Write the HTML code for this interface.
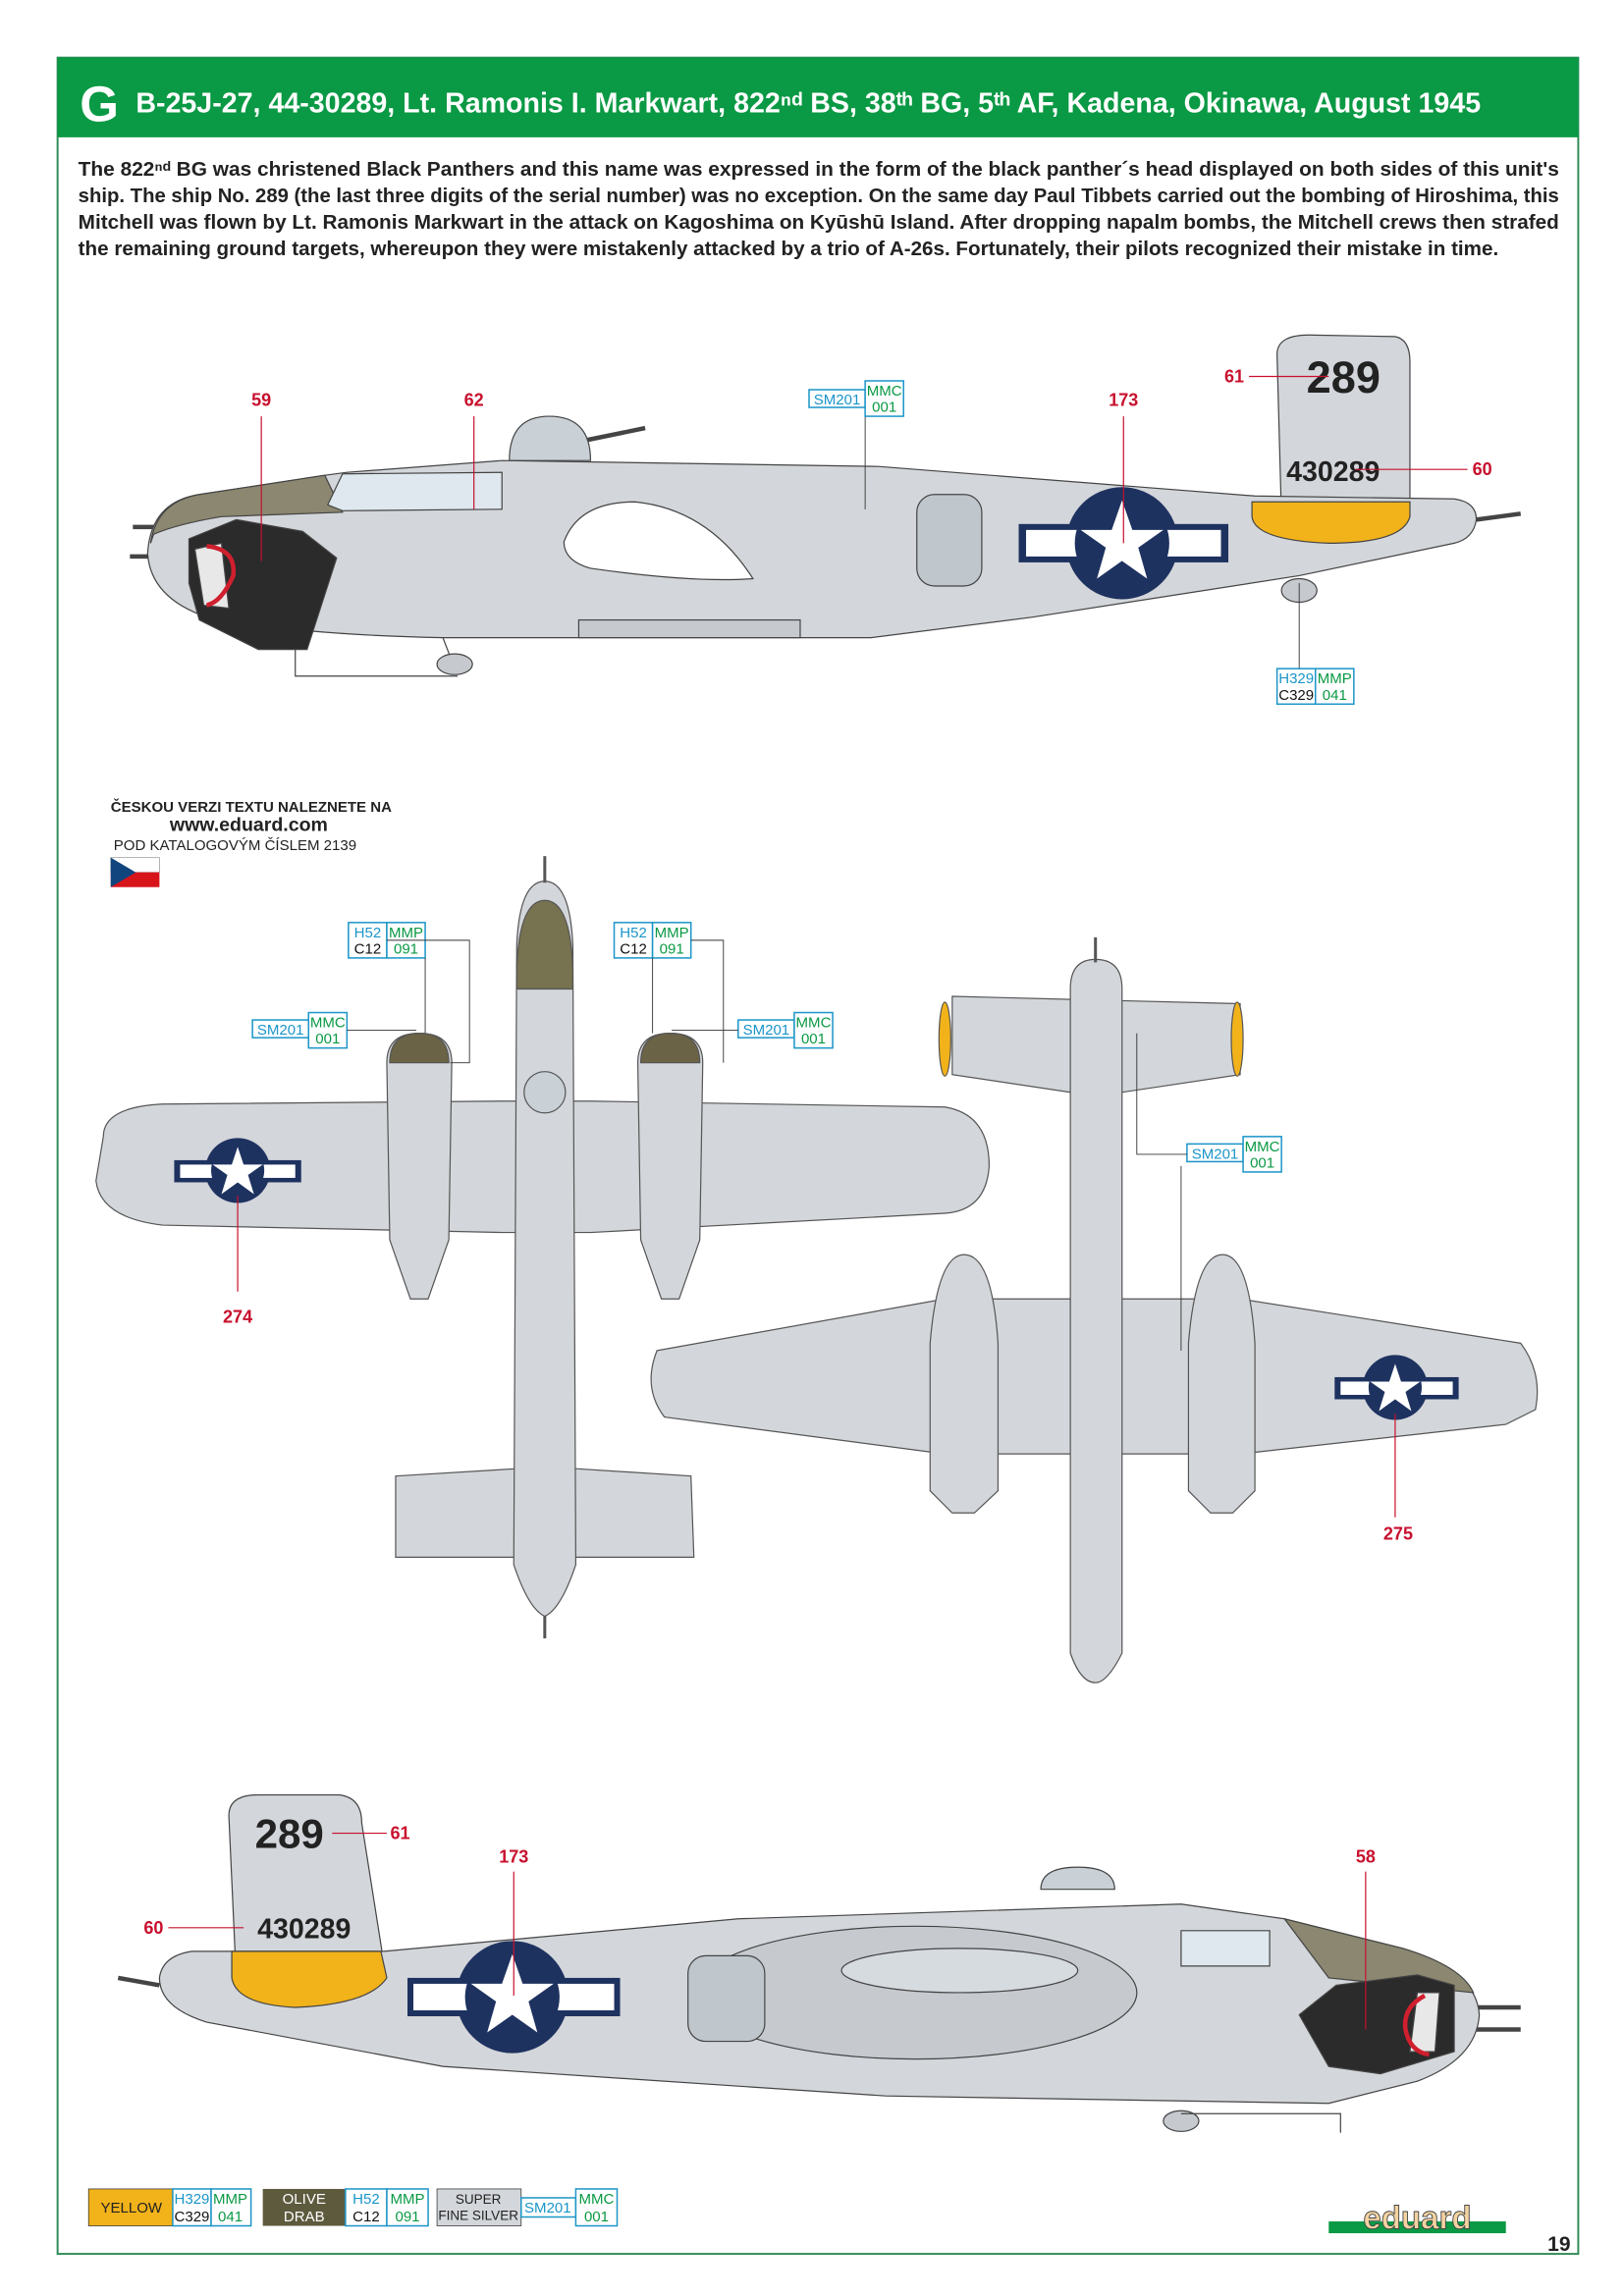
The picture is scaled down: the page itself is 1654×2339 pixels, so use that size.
<!DOCTYPE html>
<html><head><meta charset="utf-8"><style>
html,body{margin:0;padding:0;background:#fff}
svg{display:block}
text{font-family:"Liberation Sans Narrow","Liberation Sans",sans-serif}
</style></head><body>
<svg width="1654" height="2339" viewBox="0 0 1100 1555.5" xmlns="http://www.w3.org/2000/svg">
<rect x="39" y="39" width="1030" height="1488" fill="#fff" stroke="#2e8b57" stroke-width="1.3"/>
<rect x="39" y="39" width="1030" height="54" fill="#0a9944"/>
<text x="54" y="82" font-size="34" font-weight="bold" fill="#fff">G</text>
<text x="92" y="76" font-size="19" font-weight="bold" fill="#fff" textLength="911" lengthAdjust="spacingAndGlyphs">B-25J-27, 44-30289, Lt. Ramonis I. Markwart, 822ⁿᵈ BS, 38ᵗʰ BG, 5ᵗʰ AF, Kadena, Okinawa, August 1945</text>
<g font-size="13.5" font-weight="bold" fill="#222">
<text x="53" y="119" textLength="1003" lengthAdjust="spacingAndGlyphs">The 822ⁿᵈ BG was christened Black Panthers and this name was expressed in the form of the black panther´s head displayed on both sides of this unit's</text>
<text x="53" y="137" textLength="1003" lengthAdjust="spacingAndGlyphs">ship. The ship No. 289 (the last three digits of the serial number) was no exception. On the same day Paul Tibbets carried out the bombing of Hiroshima, this</text>
<text x="53" y="155" textLength="1003" lengthAdjust="spacingAndGlyphs">Mitchell was flown by Lt. Ramonis Markwart in the attack on Kagoshima on Kyūshū Island. After dropping napalm bombs, the Mitchell crews then strafed</text>
<text x="53" y="173" textLength="962" lengthAdjust="spacingAndGlyphs">the remaining ground targets, whereupon they were mistakenly attacked by a trio of A-26s. Fortunately, their pilots recognized their mistake in time.</text>
</g>

<!-- SIDE VIEW 1 -->
<g stroke="#444" stroke-width="0.8">
<line x1="1000" y1="352" x2="1030" y2="348" stroke-width="3"/>
<line x1="90" y1="357" x2="110" y2="357" stroke-width="3"/>
<line x1="88" y1="377" x2="106" y2="377" stroke-width="3"/>
<path d="M345,312 Q345,282 372,282 Q400,282 400,312 Z" fill="#c9d0d6"/>
<line x1="398" y1="298" x2="437" y2="290" stroke-width="3"/>
<path d="M868,350 L865,240 Q865,226 890,227 L945,228 Q955,230 955,245 L955,345 Q930,366 880,362 Z" fill="#d3d6da"/>
<path d="M100,375 Q102,340 135,335 L220,322 L235,320 L340,312 L595,316 L850,336 L985,338 Q1000,340 1000,352 Q998,365 985,368 L880,390 L700,418 L590,432 L300,432 Q200,430 140,418 Q102,405 100,375 Z" fill="#d3d6da"/>
<path d="M848,340 L955,340 L955,350 Q950,368 900,368 Q850,366 848,350 Z" fill="#f2b21a"/>
<path d="M102,368 Q106,340 135,335 L220,322 L232,347 L150,350 Q120,355 104,362 Z" fill="#8b8770"/>
<path d="M222,342 L232,321 L340,320 L340,345 L232,346 Z" fill="#dfe8ee"/>
<path d="M382,367 Q392,340 430,340 Q480,345 510,392 Q470,395 400,385 Q382,380 382,367 Z" fill="#fff"/>
<rect x="621" y="335" width="44" height="62" rx="12" fill="#bfc6cc"/>
<path d="M128,365 L160,352 L205,360 L228,378 L208,440 L175,440 L135,420 L128,395 Z" fill="#2b2b2b"/>
<path d="M132,372 L150,368 L155,412 L138,410 Z" fill="#e8e8e8"/>
<path d="M140,370 Q160,372 158,390 Q150,408 140,410" fill="none" stroke="#d01f2e" stroke-width="3"/>
<rect x="392" y="420" width="150" height="12" fill="#c6cacf"/>
<line x1="300" y1="432" x2="305" y2="445"/>
<ellipse cx="308" cy="450" rx="12" ry="7" fill="#c6cacf"/>
<ellipse cx="880" cy="400" rx="12" ry="8" fill="#c6cacf"/>
<polyline points="200,440 200,458 310,458" fill="none"/>
</g>
<circle cx="760" cy="368" r="38" fill="#1e3260"/>
<rect x="690" y="355" width="142" height="26" fill="#1e3260"/>
<rect x="695" y="359" width="132" height="18" fill="#fff"/>
<circle cx="760" cy="368" r="32" fill="#1e3260"/>
<polygon points="760,339 767,359 788,359 771,371 777,392 760,380 743,392 749,371 732,359 753,359" fill="#fff"/>
<text x="910" y="266" font-size="30" font-weight="bold" fill="#222" text-anchor="middle">289</text>
<text x="903" y="326" font-size="19" font-weight="bold" fill="#222" text-anchor="middle">430289</text>

<g fill="#c8102e" font-size="12" font-weight="bold" text-anchor="middle">
<text x="177" y="275">59</text><text x="321" y="275">62</text><text x="761" y="275">173</text>
<text x="836" y="259">61</text><text x="1004" y="322">60</text>
</g>
<g stroke="#c8102e" stroke-width="0.8">
<line x1="177" y1="282" x2="177" y2="380"/><line x1="321" y1="282" x2="321" y2="345"/>
<line x1="761" y1="282" x2="761" y2="368"/><line x1="846" y1="255" x2="900" y2="255"/>
<line x1="918" y1="318" x2="994" y2="318"/>
</g>
<line x1="586" y1="280" x2="586" y2="345" stroke="#333" stroke-width="0.6"/>
<line x1="880" y1="395" x2="880" y2="454" stroke="#333" stroke-width="0.6"/>

<!-- TOP VIEW 1 -->
<g stroke="#555" stroke-width="0.8">
<path d="M70,770 Q70,750 110,748 L340,746 L400,746 L640,750 Q670,755 670,790 Q668,820 640,822 L400,835 L340,835 L110,830 Q68,825 65,800 Z" fill="#d3d6da"/>
<path d="M262,720 Q262,700 284,700 Q306,700 306,720 L304,840 L290,880 L278,880 L264,840 Z" fill="#d3d6da"/>
<path d="M432,720 Q432,700 454,700 Q476,700 476,720 L474,840 L460,880 L448,880 L434,840 Z" fill="#d3d6da"/>
<path d="M264,720 Q264,700 284,700 Q304,700 304,720 Z" fill="#6b6346"/>
<path d="M434,720 Q434,700 454,700 Q474,700 474,720 Z" fill="#6b6346"/>
<path d="M268,1000 L350,995 L390,995 L468,1000 L470,1055 L268,1055 Z" fill="#d3d6da"/>
<path d="M350,640 Q352,597 369,597 Q386,597 388,640 L390,1060 Q380,1090 369,1095 Q358,1090 348,1060 Z" fill="#d3d6da"/>
<path d="M350,655 Q352,610 369,610 Q386,610 388,655 L388,670 L350,670 Z" fill="#77724f"/>
<circle cx="369" cy="740" r="14" fill="#c9d0d6"/>
<line x1="369" y1="580" x2="369" y2="598" stroke-width="2"/>
<line x1="369" y1="1095" x2="369" y2="1110" stroke-width="2"/>
</g>
<circle cx="161" cy="793" r="22" fill="#1e3260"/>
<rect x="118" y="786" width="86" height="15" fill="#1e3260"/>
<rect x="122" y="789" width="78" height="9" fill="#fff"/>
<circle cx="161" cy="793" r="18" fill="#1e3260"/>
<polygon points="161,777 165,789 178,789 168,796 172,809 161,801 150,809 154,796 144,789 157,789" fill="#fff"/>
<line x1="161" y1="810" x2="161" y2="875" stroke="#c8102e" stroke-width="0.8"/>
<text x="161" y="896" fill="#c8102e" font-size="12" font-weight="bold" text-anchor="middle">274</text>

<!-- BOTTOM VIEW -->
<g stroke="#555" stroke-width="0.8">
<path d="M645,675 L840,680 L840,728 L760,740 L725,740 L645,728 Z" fill="#d3d6da"/>
<ellipse cx="640" cy="704" rx="4" ry="25" fill="#f2b21a"/>
<ellipse cx="838" cy="704" rx="4" ry="25" fill="#f2b21a"/>
<path d="M445,915 L640,880 L840,880 L1030,910 Q1045,930 1040,955 L1020,965 L840,985 L640,985 L450,960 Q435,940 445,915 Z" fill="#d3d6da"/>
<path d="M630,910 Q635,850 653,850 Q672,850 676,910 L676,1010 L660,1025 L645,1025 L630,1010 Z" fill="#d3d6da"/>
<path d="M805,910 Q810,850 828,850 Q846,850 850,910 L850,1010 L835,1025 L820,1025 L805,1010 Z" fill="#d3d6da"/>
<path d="M725,670 Q725,650 742,650 Q760,650 760,670 L760,1120 Q750,1140 742,1140 Q732,1140 725,1120 Z" fill="#d3d6da"/>
<line x1="742" y1="635" x2="742" y2="652" stroke-width="2"/>
</g>
<circle cx="945" cy="940" r="22" fill="#1e3260"/>
<rect x="904" y="933" width="84" height="15" fill="#1e3260"/>
<rect x="908" y="936" width="76" height="9" fill="#fff"/>
<circle cx="945" cy="940" r="18" fill="#1e3260"/>
<polygon points="945,924 949,936 962,936 952,943 956,956 945,948 934,956 938,943 928,936 941,936" fill="#fff"/>
<line x1="945" y1="958" x2="945" y2="1028" stroke="#c8102e" stroke-width="0.8"/>
<text x="947" y="1043" fill="#c8102e" font-size="12" font-weight="bold" text-anchor="middle">275</text>

<!-- SIDE VIEW 2 -->
<g stroke="#444" stroke-width="0.8">
<line x1="80" y1="1340" x2="108" y2="1345" stroke-width="3"/>
<line x1="995" y1="1360" x2="1030" y2="1360" stroke-width="3"/>
<line x1="995" y1="1375" x2="1030" y2="1375" stroke-width="3"/>
<path d="M160,1340 L155,1230 Q155,1216 175,1216 L230,1216 Q245,1218 245,1235 L260,1330 L250,1345 L165,1345 Z" fill="#d3d6da"/>
<path d="M108,1340 Q110,1325 130,1322 L260,1322 L500,1300 L800,1290 L870,1300 L950,1320 Q1000,1335 1002,1365 Q1000,1395 960,1410 L900,1425 L600,1420 L300,1400 L140,1370 Q108,1360 108,1340 Z" fill="#d3d6da"/>
<path d="M157,1322 L258,1322 L262,1340 Q250,1358 200,1360 Q160,1358 157,1340 Z" fill="#f2b21a"/>
<path d="M870,1300 L950,1320 Q990,1332 998,1350 L900,1340 Z" fill="#8b8770"/>
<path d="M800,1308 L860,1308 L860,1332 L800,1332 Z" fill="#dfe8ee"/>
<path d="M705,1280 Q705,1265 730,1265 Q755,1265 755,1280 Z" fill="#c9d0d6"/>
<ellipse cx="620" cy="1350" rx="150" ry="45" fill="#c6cacf"/>
<ellipse cx="650" cy="1335" rx="80" ry="15" fill="#d6dbdf"/>
<rect x="466" y="1325" width="52" height="58" rx="12" fill="#bfc6cc"/>
<path d="M985,1345 L960,1338 L905,1345 L880,1365 L900,1400 L935,1405 L985,1390 Z" fill="#2b2b2b"/>
<path d="M975,1350 L960,1350 L955,1390 L972,1390 Z" fill="#e8e8e8"/>
<path d="M965,1352 Q950,1360 952,1375 Q955,1390 968,1392" fill="none" stroke="#d01f2e" stroke-width="3"/>
<ellipse cx="800" cy="1437" rx="12" ry="7" fill="#c6cacf"/>
<polyline points="800,1432 908,1432 908,1445" fill="none"/>
</g>
<circle cx="347" cy="1353" r="38" fill="#1e3260"/>
<rect x="276" y="1340" width="144" height="26" fill="#1e3260"/>
<rect x="280" y="1344" width="136" height="18" fill="#fff"/>
<circle cx="347" cy="1353" r="32" fill="#1e3260"/>
<polygon points="347,1324 354,1344 375,1344 358,1356 364,1377 347,1365 330,1377 336,1356 319,1344 340,1344" fill="#fff"/>
<text x="196" y="1252" font-size="28" font-weight="bold" fill="#222" text-anchor="middle">289</text>
<text x="206" y="1313" font-size="19" font-weight="bold" fill="#222" text-anchor="middle">430289</text>
<g fill="#c8102e" font-size="12" font-weight="bold" text-anchor="middle">
<text x="271" y="1246">61</text><text x="104" y="1310">60</text><text x="348" y="1262">173</text><text x="925" y="1262">58</text>
</g>
<g stroke="#c8102e" stroke-width="0.8">
<line x1="225" y1="1242" x2="262" y2="1242"/><line x1="114" y1="1306" x2="165" y2="1306"/>
<line x1="348" y1="1268" x2="348" y2="1352"/><line x1="925" y1="1268" x2="925" y2="1375"/>
</g>

<text x="75" y="550" font-size="10" font-weight="bold" fill="#222">ČESKOU VERZI TEXTU NALEZNETE NA</text>
<text x="115" y="563" font-size="13" font-weight="bold" fill="#222">www.eduard.com</text>
<text x="77" y="576" font-size="10" fill="#222">POD KATALOGOVÝM ČÍSLEM 2139</text>
<rect x="75" y="581" width="33" height="10" fill="#fff" stroke="#999" stroke-width="0.5"/>
<rect x="75" y="591" width="33" height="10" fill="#d7141a"/>
<polygon points="75,581 92,591 75,601" fill="#11457e"/>

<g font-size="10" text-anchor="middle">
<g transform="translate(548,258)"><rect x="0" y="6" width="38" height="12" fill="#fff" stroke="#1b95c8"/><text x="19" y="16" fill="#1b95c8">SM201</text><rect x="38" y="0" width="26" height="24" fill="#fff" stroke="#1b95c8"/><text x="51" y="10" fill="#0a9944">MMC</text><text x="51" y="21" fill="#0a9944">001</text></g>
<g transform="translate(865,453)"><rect x="0" y="0" width="26" height="24" fill="#fff" stroke="#1b95c8"/><text x="13" y="10" fill="#1b95c8">H329</text><text x="13" y="21" fill="#111">C329</text><rect x="26" y="0" width="26" height="24" fill="#fff" stroke="#1b95c8"/><text x="39" y="10" fill="#0a9944">MMP</text><text x="39" y="21" fill="#0a9944">041</text></g>
<g transform="translate(236,625)"><rect x="0" y="0" width="26" height="24" fill="#fff" stroke="#1b95c8"/><text x="13" y="10" fill="#1b95c8">H52</text><text x="13" y="21" fill="#111">C12</text><rect x="26" y="0" width="26" height="24" fill="#fff" stroke="#1b95c8"/><text x="39" y="10" fill="#0a9944">MMP</text><text x="39" y="21" fill="#0a9944">091</text></g>
<g transform="translate(416,625)"><rect x="0" y="0" width="26" height="24" fill="#fff" stroke="#1b95c8"/><text x="13" y="10" fill="#1b95c8">H52</text><text x="13" y="21" fill="#111">C12</text><rect x="26" y="0" width="26" height="24" fill="#fff" stroke="#1b95c8"/><text x="39" y="10" fill="#0a9944">MMP</text><text x="39" y="21" fill="#0a9944">091</text></g>
<g transform="translate(171,686)"><rect x="0" y="5" width="38" height="12" fill="#fff" stroke="#1b95c8"/><text x="19" y="15" fill="#1b95c8">SM201</text><rect x="38" y="0" width="26" height="24" fill="#fff" stroke="#1b95c8"/><text x="51" y="10" fill="#0a9944">MMC</text><text x="51" y="21" fill="#0a9944">001</text></g>
<g transform="translate(500,686)"><rect x="0" y="5" width="38" height="12" fill="#fff" stroke="#1b95c8"/><text x="19" y="15" fill="#1b95c8">SM201</text><rect x="38" y="0" width="26" height="24" fill="#fff" stroke="#1b95c8"/><text x="51" y="10" fill="#0a9944">MMC</text><text x="51" y="21" fill="#0a9944">001</text></g>
<g transform="translate(804,770)"><rect x="0" y="5" width="38" height="12" fill="#fff" stroke="#1b95c8"/><text x="19" y="15" fill="#1b95c8">SM201</text><rect x="38" y="0" width="26" height="24" fill="#fff" stroke="#1b95c8"/><text x="51" y="10" fill="#0a9944">MMC</text><text x="51" y="21" fill="#0a9944">001</text></g>
</g>
<g stroke="#333" stroke-width="0.6" fill="none">
<polyline points="262,637 318,637 318,720 305,720"/><polyline points="288,649 288,700"/>
<polyline points="235,698 282,698"/>
<polyline points="442,649 442,700"/><polyline points="468,637 490,637 490,720"/>
<polyline points="500,698 455,698"/>
<polyline points="804,782 770,782 770,700"/><polyline points="800,790 800,915"/>
</g>

<g font-size="10" text-anchor="middle">
<rect x="60" y="1483" width="57" height="25" fill="#f2b21a" stroke="#333" stroke-width="0.5"/><text x="89" y="1499" fill="#222">YELLOW</text>
<rect x="117" y="1483" width="26" height="25" fill="#fff" stroke="#1b95c8"/><text x="130" y="1493" fill="#1b95c8">H329</text><text x="130" y="1505" fill="#111">C329</text>
<rect x="143" y="1483" width="27" height="25" fill="#fff" stroke="#1b95c8"/><text x="156" y="1493" fill="#0a9944">MMP</text><text x="156" y="1505" fill="#0a9944">041</text>
<rect x="178" y="1483" width="56" height="25" fill="#5e5a3e"/><text x="206" y="1493" fill="#fff">OLIVE</text><text x="206" y="1505" fill="#fff">DRAB</text>
<rect x="234" y="1483" width="28" height="25" fill="#fff" stroke="#1b95c8"/><text x="248" y="1493" fill="#1b95c8">H52</text><text x="248" y="1505" fill="#111">C12</text>
<rect x="262" y="1483" width="28" height="25" fill="#fff" stroke="#1b95c8"/><text x="276" y="1493" fill="#0a9944">MMP</text><text x="276" y="1505" fill="#0a9944">091</text>
<rect x="296" y="1483" width="57" height="25" fill="#d3d6da" stroke="#333" stroke-width="0.5"/><text x="324" y="1493" font-size="9" fill="#222">SUPER</text><text x="324" y="1504" font-size="9" fill="#222">FINE SILVER</text>
<rect x="353" y="1489" width="37" height="13" fill="#fff" stroke="#1b95c8"/><text x="371" y="1499" fill="#1b95c8">SM201</text>
<rect x="390" y="1483" width="28" height="25" fill="#fff" stroke="#1b95c8"/><text x="404" y="1493" fill="#0a9944">MMC</text><text x="404" y="1505" fill="#0a9944">001</text>
</g>
<rect x="900" y="1505" width="120" height="8" fill="#0a9944"/>
<text x="960" y="1510" font-size="22" font-weight="bold" fill="#f3d3a0" stroke="#444" stroke-width="0.6" text-anchor="middle">eduard</text>
<text x="1056" y="1525" font-size="14" font-weight="bold" fill="#222" text-anchor="middle">19</text>
</svg>
</body></html>
